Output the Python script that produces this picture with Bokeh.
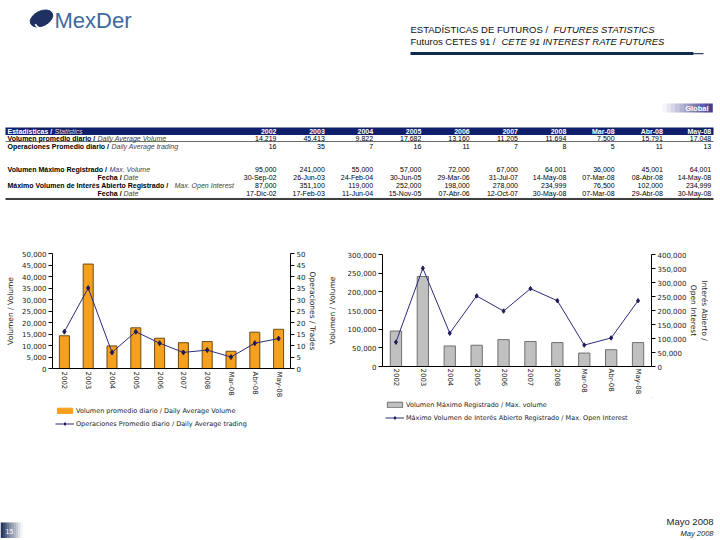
import math
from bokeh.plotting import figure
from bokeh.models import (Range1d, FactorRange, LinearAxis, FixedTicker,
                          NumeralTickFormatter, Legend, LegendItem)
from bokeh.layouts import column, row
from bokeh.embed import file_html
from bokeh.resources import INLINE
from bokeh.core.properties import value

# ---------------- data ----------------
categories = ["2002", "2003", "2004", "2005", "2006", "2007", "2008",
              "Mar-08", "Abr-08", "May-08"]
daily_avg_volume = [14219, 45413, 9822, 17682, 13160, 11205, 11694, 7500, 15791, 17048]
daily_avg_trades = [16, 35, 7, 16, 11, 7, 8, 5, 11, 13]
max_volume = [95000, 241000, 55000, 57000, 72000, 67000, 64001, 36000, 45001, 64001]
max_volume_dates = ["30-Sep-02", "26-Jun-03", "24-Feb-04", "30-Jun-05", "29-Mar-06",
                    "31-Jul-07", "14-May-08", "07-Mar-08", "08-Abr-08", "14-May-08"]
max_open_interest = [87000, 351100, 119000, 252000, 198000, 278000, 234999, 76500,
                     102000, 234999]
max_oi_dates = ["17-Dic-02", "17-Feb-03", "11-Jun-04", "15-Nov-05", "07-Abr-06",
                "12-Oct-07", "30-May-08", "07-Mar-08", "29-Abr-08", "30-May-08"]

vol_ticks = [0, 5000, 10000, 15000, 20000, 25000, 30000, 35000, 40000, 45000, 50000]
trade_ticks = [0, 5, 10, 15, 20, 25, 30, 35, 40, 45, 50]
maxvol_ticks = [0, 50000, 100000, 150000, 200000, 250000, 300000]
oi_ticks = [0, 50000, 100000, 150000, 200000, 250000, 300000, 350000, 400000]

TABLE_FONT = "Liberation Sans"
CHART_FONT = "DejaVu Sans"
NAVY = "#0f1f6e"
PAGE_W = 718
ORANGE, ORANGE_EDGE = "#F5A01E", "#6E4A10"
GREY, GREY_EDGE = "#C0C0C0", "#707070"
LINE_C, MARK_C = "#2B2B7A", "#1E1A5A"


def canvas(x0, x1, y0, y1):
    p = figure(width=x1 - x0, height=y1 - y0, x_range=Range1d(x0, x1),
               y_range=Range1d(y1, y0), output_backend="svg", toolbar_location=None,
               min_border=0, x_axis_location=None, y_axis_location=None)
    p.grid.visible = False
    p.outline_line_color = None
    return p


def txt(p, x, y, s, size, color="#000000", style="normal", align="left",
        font="Liberation Sans"):
    xs = x if isinstance(x, list) else [x]
    ss = s if isinstance(s, list) else [s]
    ys = [y] * len(xs)
    p.text(x=xs, y=ys, text=ss, text_font=value(font), text_font_size=f"{size}px",
           text_font_style=style, text_color=color, text_align=align,
           text_baseline="middle")


# ---------------- header + table ----------------
head = canvas(0, PAGE_W, 0, 240)

# logo
head.ellipse(x=[41], y=[18], width=24, height=15, angle=0.45,
             fill_color="#1f3160", line_color="#1f3160")
head.arc(x=[42], y=[20], radius=8, start_angle=3.6, end_angle=5.6,
         line_color="white", line_width=1.6)
txt(head, 54, 20, "MexDer", 22, color="#3d6a9e")

# title
txt(head, 410, 29, "ESTADÍSTICAS DE FUTUROS / ", 9.5, color="#111111")
txt(head, 553, 29, "FUTURES STATISTICS", 9.5, color="#111111", style="italic")
txt(head, 410, 41, "Futuros CETES 91 / ", 9.5, color="#111111")
txt(head, 501, 41, "CETE 91 INTEREST RATE FUTURES", 9.5, color="#111111", style="italic")
head.quad(left=[410], right=[693], top=[51.5], bottom=[54.5],
          fill_color="#0d2a4f", line_color=None)
head.quad(left=[693], right=[703], top=[52.5], bottom=[53.7],
          fill_color="#33475f", line_color=None)

# "Global" badge
n = 12
for i in range(n):
    t = (i + 0.5) / n
    r = int(255 + (58 - 255) * t)
    g = int(255 + (58 - 255) * t)
    b = int(255 + (140 - 255) * t)
    head.quad(left=[662 + i * 50 / n], right=[662 + (i + 1) * 50 / n + 0.3],
              top=[103], bottom=[112], fill_color=f"#{r:02x}{g:02x}{b:02x}",
              line_color=None)
txt(head, 708, 107.5, "Global", 7.5, color="white", style="bold", align="right")

# table
col_right = [276 + i * 48.3 for i in range(10)]
head.quad(left=[5], right=[713], top=[127], bottom=[134.5], fill_color=NAVY,
          line_color=None)
txt(head, 7, 130.8, "Estadísticas / ", 7, color="white", style="bold", font=TABLE_FONT)
txt(head, 54, 130.8, "Statistics", 7, color="#dddddd", style="italic", font=TABLE_FONT)
txt(head, col_right, 130.8, categories, 7, color="white", style="bold",
    align="right", font=TABLE_FONT)

rows = [
    (137.5, "Volumen promedio diario / ", 7, "Daily Average Volume", 97,
     [f"{v:,}" for v in daily_avg_volume]),
    (145.5, "Operaciones Promedio diario / ", 7, "Daily Average trading", 111,
     [f"{v:,}" for v in daily_avg_trades]),
    (169.0, "Volumen Máximo Registrado / ", 7, "Max. Volume", 109,
     [f"{v:,}" for v in max_volume]),
    (177.0, "Fecha / ", 97, "Date", 123, max_volume_dates),
    (185.0, "Máximo Volumen de Interés Abierto Registrado / ", 7,
     "Max. Open Interest", 174, [f"{v:,}" for v in max_open_interest]),
    (193.0, "Fecha / ", 97, "Date", 123, max_oi_dates),
]
for y, bold, bx, ital, ix, vals in rows:
    txt(head, bx, y, bold, 7, style="bold", font=TABLE_FONT)
    txt(head, ix, y, ital, 7, color="#444444", style="italic", font=TABLE_FONT)
    txt(head, col_right, y, vals, 7, align="right", font=TABLE_FONT)

head.segment(x0=[5], y0=[141], x1=[713], y1=[141], line_color="#444444", line_width=0.8)
head.segment(x0=[5], y0=[198.5], x1=[713], y1=[198.5], line_color="#000000", line_width=1.5)


# ---------------- chart styling helpers ----------------
def style_chart(p):
    p.grid.visible = False
    p.outline_line_color = None
    p.background_fill_color = "white"
    for ax in p.axis:
        ax.major_label_text_font = CHART_FONT
        ax.major_label_text_font_size = "7px"
        ax.major_label_text_color = "#222222"
        ax.axis_label_text_font = CHART_FONT
        ax.axis_label_text_font_size = "7.5px"
        ax.axis_label_text_font_style = "normal"
        ax.axis_label_text_color = "#222222"
        ax.axis_line_color = "#000000"
        ax.minor_tick_line_color = None
    p.xaxis.major_label_orientation = -math.pi / 2
    p.xaxis.major_tick_line_color = None
    p.xaxis.major_tick_out = 0
    p.xaxis.major_tick_in = 0
    p.xaxis.major_label_standoff = 3
    for ax in p.yaxis:
        ax.major_tick_out = 4
        ax.major_tick_in = 0
        ax.major_label_standoff = 2


def legend_figure(w, h, bar_fill, bar_edge, bar_label, line_label, loc):
    """A small figure holding only the legend; its swatch renderers sit outside
    the visible range so only the legend entries show."""
    lf = figure(width=w, height=h, x_range=Range1d(0, 1), y_range=Range1d(0, 1),
                output_backend="svg", toolbar_location=None, min_border=0,
                x_axis_location=None, y_axis_location=None)
    lf.grid.visible = False
    lf.outline_line_color = None
    sw_bar = lf.vbar(x=[5], top=[6], bottom=[5], width=0.5, fill_color=bar_fill,
                     line_color=bar_edge)
    sw_line = lf.line(x=[5, 6], y=[5, 5], line_color=LINE_C, line_width=1)
    sw_pts = lf.scatter(x=[5], y=[5], marker="diamond", size=5, fill_color=MARK_C,
                        line_color=MARK_C)
    leg = Legend(items=[LegendItem(label=bar_label, renderers=[sw_bar]),
                        LegendItem(label=line_label, renderers=[sw_line, sw_pts])],
                 location=loc, orientation="vertical",
                 label_text_font=CHART_FONT, label_text_font_size="6.5px",
                 label_text_color="#222222", glyph_width=19, glyph_height=7,
                 label_height=13, label_standoff=2, padding=0, margin=0, spacing=0,
                 border_line_color=None, background_fill_alpha=0)
    lf.add_layout(leg)
    return lf


# ---------------- left chart ----------------
left = figure(x_range=FactorRange(factors=categories, range_padding=0),
              y_range=Range1d(0, 50000), width=322, height=162,
              min_border_left=52, min_border_right=32, min_border_top=13,
              min_border_bottom=34, output_backend="svg", toolbar_location=None)
left.extra_y_ranges = {"trades": Range1d(0, 50)}
left.vbar(x=categories, top=daily_avg_volume, width=0.42,
          fill_color=ORANGE, line_color=ORANGE_EDGE, line_width=1)
left.line(x=categories, y=daily_avg_trades, y_range_name="trades",
          line_color=LINE_C, line_width=1)
left.scatter(x=categories, y=daily_avg_trades, y_range_name="trades",
             marker="diamond", size=5, fill_color=MARK_C, line_color=MARK_C)
left.yaxis.ticker = FixedTicker(ticks=vol_ticks)
left.yaxis.formatter = NumeralTickFormatter(format="0,0")
left.yaxis.axis_label = "Volumen / Volume"
rax_l = LinearAxis(y_range_name="trades", ticker=FixedTicker(ticks=trade_ticks),
                   axis_label="Operaciones / Trades")
left.add_layout(rax_l, "right")
style_chart(left)
left.yaxis[0].axis_label_standoff = 4
rax_l.axis_label_standoff = 0
# legend figure's frame is aligned to the chart frame (x 52..290)
left_leg = legend_figure(322, 38, ORANGE, ORANGE,
                         "Volumen promedio diario / Daily Average Volume",
                         "Operaciones Promedio diario / Daily Average trading",
                         (3, 10))

# ---------------- right chart ----------------
right = figure(x_range=FactorRange(factors=categories, range_padding=0),
               y_range=Range1d(0, 300000), width=396, height=157,
               min_border_left=60, min_border_right=67, min_border_top=14,
               min_border_bottom=30, output_backend="svg", toolbar_location=None)
right.extra_y_ranges = {"oi": Range1d(0, 400000)}
right.vbar(x=categories, top=max_volume, width=0.42,
           fill_color=GREY, line_color=GREY_EDGE, line_width=1)
right.line(x=categories, y=max_open_interest, y_range_name="oi",
           line_color=LINE_C, line_width=1)
right.scatter(x=categories, y=max_open_interest, y_range_name="oi",
              marker="diamond", size=4.5, fill_color=MARK_C, line_color=MARK_C)
right.yaxis.ticker = FixedTicker(ticks=maxvol_ticks)
right.yaxis.formatter = NumeralTickFormatter(format="0,0")
right.yaxis.axis_label = "Volumen / Volume"
rax_r = LinearAxis(y_range_name="oi", ticker=FixedTicker(ticks=oi_ticks),
                   formatter=NumeralTickFormatter(format="0,0"),
                   axis_label="Interés Abierto /\nOpen Interest")
right.add_layout(rax_r, "right")
style_chart(right)
right.xaxis.major_label_standoff = 2
right.yaxis[0].axis_label_standoff = 8
rax_r.axis_label_standoff = 0
right_leg = legend_figure(396, 43, GREY, GREY_EDGE,
                          "Volumen Máximo Registrado / Max. volume",
                          "Máximo Volumen de Interés Abierto Registrado / Max. Open Interest",
                          (3, 16))

# ---------------- footer ----------------
foot = canvas(0, PAGE_W, 440, 538)
m = 10
for i in range(m):
    t = (i + 0.5) / m
    r = int(26 + (255 - 26) * t)
    g = int(42 + (255 - 42) * t)
    b = int(85 + (255 - 85) * t)
    foot.quad(left=[i * 22 / m], right=[(i + 1) * 22 / m + 0.3],
              top=[522], bottom=[538], fill_color=f"#{r:02x}{g:02x}{b:02x}",
              line_color=None)
txt(foot, 5, 531, "15", 7, color="white")
txt(foot, 713, 521, "Mayo 2008", 9.5, color="#222222", align="right")
txt(foot, 713, 533, "May 2008", 7.5, color="#222222", style="italic", align="right")

charts = row(column(left, left_leg, spacing=0), column(right, right_leg, spacing=0),
             spacing=0)
layout = column(head, charts, foot, spacing=0)
open("out.html", "w").write(file_html(layout, INLINE))
